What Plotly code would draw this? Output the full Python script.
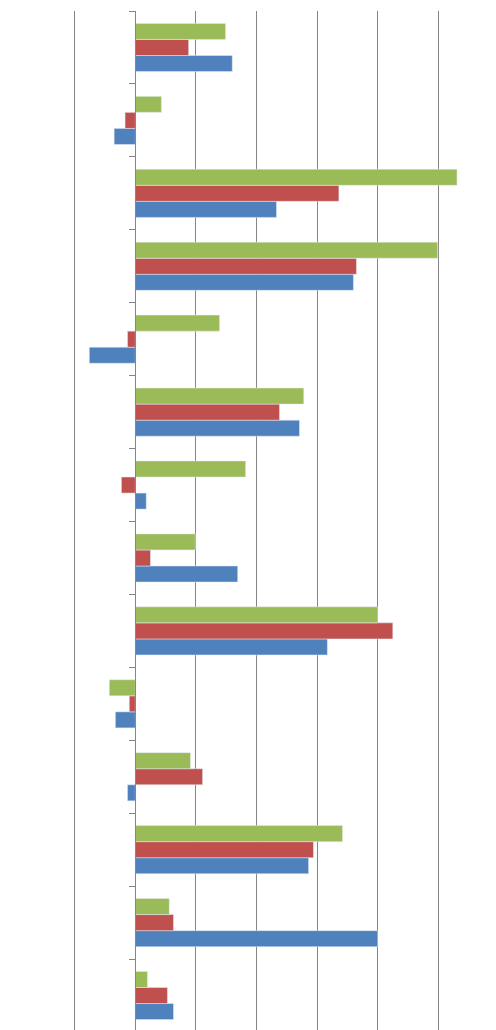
import plotly.graph_objects as go

categories = list(range(14, 0, -1))  # top to bottom
blue  = [1.60, -0.35, 2.33, 3.60, -0.76, 2.71, 0.18, 1.69, 3.17, -0.33, -0.13, 2.86, 4.00, 0.63]
red   = [0.88, -0.17, 3.36, 3.65, -0.13, 2.38, -0.23, 0.25, 4.25, -0.10, 1.11, 2.94, 0.63, 0.53]
green = [1.49, 0.43, 5.31, 4.99, 1.39, 2.78, 1.82, 0.99, 4.00, -0.43, 0.91, 3.42, 0.56, 0.20]

fig = go.Figure()
for name, vals, col in [("blue", blue, "#4F81BD"), ("red", red, "#C0504D"), ("green", green, "#9BBB59")]:
    fig.add_trace(go.Bar(x=vals, y=categories, orientation="h", marker_color=col, name=name))

fig.update_layout(
    width=496, height=1030, barmode="group", bargap=0.34, bargroupgap=0,
    showlegend=False, plot_bgcolor="white", paper_bgcolor="white",
    margin=dict(l=6, r=5, t=3, b=6, pad=0, autoexpand=False),
    xaxis=dict(range=[-2.003, 6.003], tickvals=[-2, -1, 0, 1, 2, 3, 4, 5, 6], showgrid=True,
               gridcolor="#868686", gridwidth=1, automargin=False,
               zeroline=False, showline=True, linecolor="#868686", mirror=False,
               ticks="outside", ticklen=6, tickcolor="#868686", showticklabels=False),
    yaxis=dict(range=[0.5, 14.5], anchor="free", position=0.25, showgrid=False, zeroline=False,
               automargin=False,
               showline=True, linecolor="#868686", tickvals=[i + 0.5 for i in range(0, 15)],
               ticks="outside", ticklen=6, tickcolor="#868686", showticklabels=False),
)
fig.write_html("out.html")
